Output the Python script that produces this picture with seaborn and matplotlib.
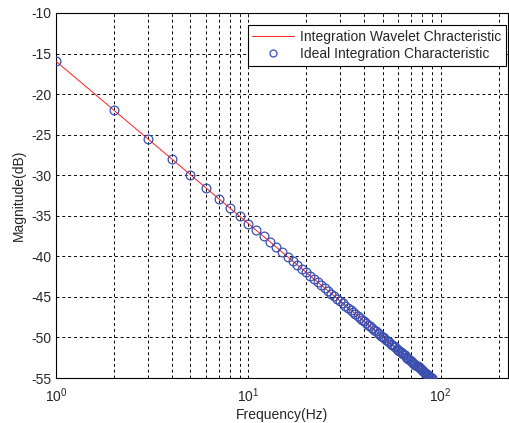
import numpy as np
import pandas as pd
import matplotlib
matplotlib.use("Agg")
import matplotlib.pyplot as plt
import seaborn as sns
from matplotlib.ticker import LogLocator

freq_hz = list(range(1, 91))
magnitude_db = [
    -15.96, -21.98, -25.51, -28.00, -29.94, -31.53, -32.87, -34.03, -35.05, -35.96,
    -36.79, -37.55, -38.24, -38.89, -39.49, -40.05, -40.57, -41.07, -41.54, -41.98,
    -42.41, -42.81, -43.20, -43.57, -43.92, -44.26, -44.59, -44.91, -45.21, -45.51,
    -45.79, -46.07, -46.33, -46.59, -46.85, -47.09, -47.33, -47.56, -47.79, -48.00,
    -48.22, -48.43, -48.63, -48.83, -49.03, -49.22, -49.41, -49.59, -49.77, -49.94,
    -50.12, -50.28, -50.45, -50.61, -50.77, -50.93, -51.08, -51.23, -51.38, -51.53,
    -51.67, -51.81, -51.95, -52.09, -52.22, -52.35, -52.49, -52.61, -52.74, -52.87,
    -52.99, -53.11, -53.23, -53.35, -53.47, -53.58, -53.69, -53.81, -53.92, -54.03,
    -54.13, -54.24, -54.35, -54.45, -54.55, -54.65, -54.75, -54.85, -54.95, -55.05,
]
y_ticks = [-55, -50, -45, -40, -35, -30, -25, -20, -15, -10]
label_line = "Integration Wavelet Chracteristic"
label_marker = "Ideal Integration Characteristic"

sns.set_style("white")
plt.rcParams["font.family"] = ["Liberation Sans", "DejaVu Sans"]
plt.rcParams["font.size"] = 10

df = pd.DataFrame({"f": freq_hz, "mag": magnitude_db})

fig = plt.figure(figsize=(5.09, 4.23), dpi=100)
ax = fig.add_axes([56 / 509, 1 - 378 / 423, (508 - 56) / 509, (378 - 13) / 423])

sns.lineplot(data=df, x="f", y="mag", ax=ax, color="#ff2020", linewidth=0.7,
             label=label_line, zorder=3)
sns.lineplot(data=df, x="f", y="mag", ax=ax, linestyle="", marker="o",
             markersize=6.3, markerfacecolor="none", markeredgecolor="#3a4fb0",
             markeredgewidth=0.9, color="#3a4fb0", label=label_marker, zorder=4)

ax.set_xscale("log")
ax.set_xlim(1, 224)
ax.set_ylim(-55, -10)
ax.set_yticks(y_ticks)
ax.set_yticklabels([str(v) for v in y_ticks])
ax.xaxis.set_major_locator(LogLocator(base=10))
ax.xaxis.set_minor_locator(LogLocator(base=10, subs=np.arange(2, 10)))

ax.grid(True, which="major", axis="both", color="black", linestyle=(0, (3, 3)), linewidth=0.7)
ax.grid(True, which="minor", axis="x", color="black", linestyle=(0, (3, 3)), linewidth=0.7)

ax.tick_params(direction="in", which="both", top=True, right=True, labelsize=10,
               length=3, width=0.7, pad=3)
ax.tick_params(axis="x", which="major", pad=6)
ax.tick_params(which="minor", length=2, labelbottom=False)
for s in ax.spines.values():
    s.set_color("black")
    s.set_linewidth(0.8)

ax.set_xlabel("Frequency(Hz)", fontsize=10, labelpad=2)
ax.set_ylabel("Magnitude(dB)", fontsize=10, labelpad=4)

leg = ax.legend(loc="upper right", fontsize=10, frameon=True, fancybox=False,
                edgecolor="black", framealpha=1, bbox_to_anchor=(0.995, 0.968),
                borderaxespad=0.0, handlelength=3.0, handletextpad=0.4,
                borderpad=0.35, labelspacing=0.25, markerscale=0.8)
leg.get_frame().set_linewidth(0.8)

fig.savefig("out.png", dpi=100)
